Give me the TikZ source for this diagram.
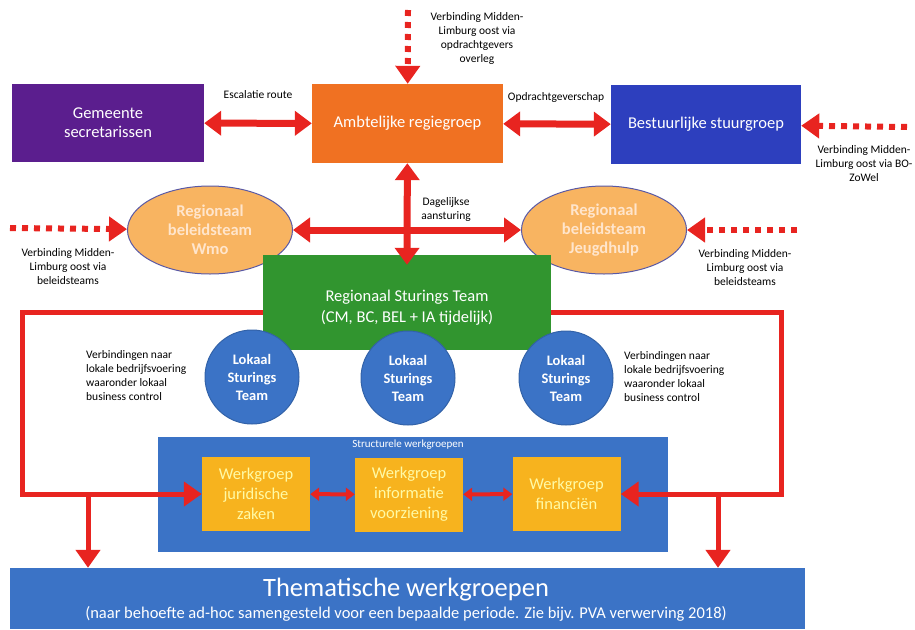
\documentclass[tikz,border=0pt]{standalone}
\usepackage{fontspec}
\setmainfont{Carlito}
\usepackage{xcolor}
\usetikzlibrary{arrows.meta,positioning,shapes.geometric}

\definecolor{paars}{HTML}{5B1E8E}
\definecolor{oranje}{HTML}{F07122}
\definecolor{donkerblauw}{HTML}{2D3FBE}
\definecolor{lichtoranje}{HTML}{F8B461}
\definecolor{groen}{HTML}{31952F}
\definecolor{blauw}{HTML}{3B73C6}
\definecolor{geel}{HTML}{F7B31E}
\definecolor{rood}{HTML}{E82420}

\begin{document}
\begin{tikzpicture}[x=1pt,y=-1pt,
                    box/.style={rectangle,text=white,align=center,font=\fontsize{16.5}{19}\selectfont},
                    ellips/.style={ellipse,draw=gray!70!blue,line width=1pt,fill=lichtoranje,text=white!80!orange,
                      align=center,minimum width=165pt,minimum height=88pt,inner sep=0pt,font=\bfseries\fontsize{16.5}{19}\selectfont},
                    cirkel/.style={circle,draw=blauw!85!black,line width=1pt,fill=blauw,text=white,align=center,
                      minimum size=94pt,inner sep=0pt,font=\bfseries\fontsize{14.5}{18}\selectfont},
                    werkgroep/.style={rectangle,fill=geel,minimum width=108pt,minimum height=74pt,inner sep=0pt,text=yellow!35,
                      align=center,font=\fontsize{16.5}{20}\selectfont},
                    tekst/.style={align=center,inner sep=0pt,font=\fontsize{11.5}{14}\selectfont},
                    dubbel/.style={draw=rood,line width=7pt,{Triangle[width=24pt,length=17pt]}-{Triangle[width=24pt,length=17pt]}},
                    klein/.style={draw=rood,line width=4pt,{Triangle[width=13pt,length=9pt]}-{Triangle[width=13pt,length=9pt]}},
                    stippel/.style={draw=rood,line width=6pt,dash pattern=on 6pt off 6pt,-{Triangle[width=24pt,length=18pt]}},
                    pijl/.style={draw=rood,line width=5pt,-{Triangle[width=24pt,length=18pt]}}]

  \useasboundingbox (0,0) rectangle (915,629);

  % bovenste rij
  \node[box,fill=paars,minimum width=192pt,minimum height=78pt] (gemeente) at (108,123) {Gemeente\\secretarissen};
  \node[box,fill=oranje,minimum width=191pt,minimum height=79pt] (ambtelijk) at (407.5,123.5) {Ambtelijke regiegroep};
  \node[box,fill=donkerblauw,minimum width=190pt,minimum height=79pt] (bestuurlijk) at (706,124.5) {Bestuurlijke stuurgroep};

  % beleidsteams
  \node[ellips] (wmo) at (210,230) {Regionaal\\beleidsteam\\Wmo};
  \node[ellips] (jeugd) at (604,230) {Regionaal\\beleidsteam\\Jeugdhulp};

  % sturingsteams
  \node[box,fill=groen,minimum width=288pt,minimum height=95pt] (rst) at (407,302.5) {};
  \node[box,font=\fontsize{16.5}{21}\selectfont] (rsttekst) at (407,308) {Regionaal Sturings Team\\(CM, BC, BEL + IA tijdelijk)};
  \node[cirkel] (lst1) at (252,377) {Lokaal\\Sturings\\Team};
  \node[cirkel] (lst2) at (408,378) {Lokaal\\Sturings\\Team};
  \node[cirkel] (lst3) at (566,378) {Lokaal\\Sturings\\Team};

  % werkgroepen
  \node[rectangle,fill=blauw,minimum width=510pt,minimum height=115pt] (structureel) at (413,494.5) {};
  \node[text=white,inner sep=0pt,font=\fontsize{11}{13}\selectfont] (structlabel) at (408,445) {Structurele werkgroepen};
  \node[werkgroep] (jur) at (256,494) {Werkgroep\\juridische\\zaken};
  \node[werkgroep] (info) at (409,494.5) {Werkgroep\\informatie\\voorziening};
  \node[werkgroep] (fin) at (566.5,494) {Werkgroep\\financi\"en};
  \node[rectangle,fill=blauw,minimum width=795pt,minimum height=61pt] (thema) at (407.5,598.5) {};
  \node[text=white,inner sep=0pt,font=\fontsize{26.5}{30}\selectfont] (thematitel) at (406,590) {Thematische werkgroepen};
  \node[text=white,inner sep=0pt,font=\fontsize{16.5}{19}\selectfont] (themasub) at (406,614)
    {(naar behoefte ad-hoc samengesteld voor een bepaalde periode. Zie bijv. PVA verwerving 2018)};

  % losse eindpunten
  \coordinate (boven) at (408,10);
  \coordinate (rechtsboven) at (907,127);
  \coordinate (links) at (10,228);
  \coordinate (rechtsonder) at (797,230);
  \coordinate (hoekL) at (22,312);
  \coordinate (hoekR) at (781,312);
  \coordinate (splitL) at (88,494);
  \coordinate (splitR) at (718,494);

  % verbindingen
  \path
  (gemeente) edge[dubbel] (ambtelijk)
  (ambtelijk) edge[dubbel] (bestuurlijk)
  (ambtelijk) edge[dubbel] ([yshift=-10pt]rst.north)
  (wmo) edge[dubbel] (jeugd)
  (jur) edge[klein] (info)
  (info) edge[klein] (fin);

  \draw[stippel] (boven) -- (ambtelijk);
  \draw[stippel] (rechtsboven) -- (bestuurlijk);
  \draw[stippel] (links) -- (wmo);
  \draw[stippel] (rechtsonder) -- (jeugd);

  \draw[pijl] (rst.west |- hoekL) -- (hoekL) |- (jur.west);
  \draw[pijl] (rst.east |- hoekR) -- (hoekR) |- (fin.east);
  \draw[pijl] (splitL) -- (splitL |- thema.north);
  \draw[pijl] (splitR) -- (splitR |- thema.north);

  % teksten
  \node[tekst] (escalatie) at (258,95) {Escalatie route};
  \node[tekst] (opdracht) at (556,97) {Opdrachtgeverschap};
  \node[tekst] (via1) at (477,38) {Verbinding Midden-\\Limburg oost via\\opdrachtgevers\\overleg};
  \node[tekst] (via2) at (864,164) {Verbinding Midden-\\Limburg oost via BO-\\ZoWel};
  \node[tekst] (dagelijks) at (446,209) {Dagelijkse\\aansturing};
  \node[tekst] (via3) at (68,267) {Verbinding Midden-\\Limburg oost via\\beleidsteams};
  \node[tekst] (via4) at (745,268) {Verbinding Midden-\\Limburg oost via\\beleidsteams};
  \node[tekst,align=left,anchor=west] (lokaalL) at (86,376) {Verbindingen naar\\lokale bedrijfsvoering\\waaronder lokaal\\business control};
  \node[tekst,align=left,anchor=west] (lokaalR) at (624,377) {Verbindingen naar\\lokale bedrijfsvoering\\waaronder lokaal\\business control};

\end{tikzpicture}
\end{document}
